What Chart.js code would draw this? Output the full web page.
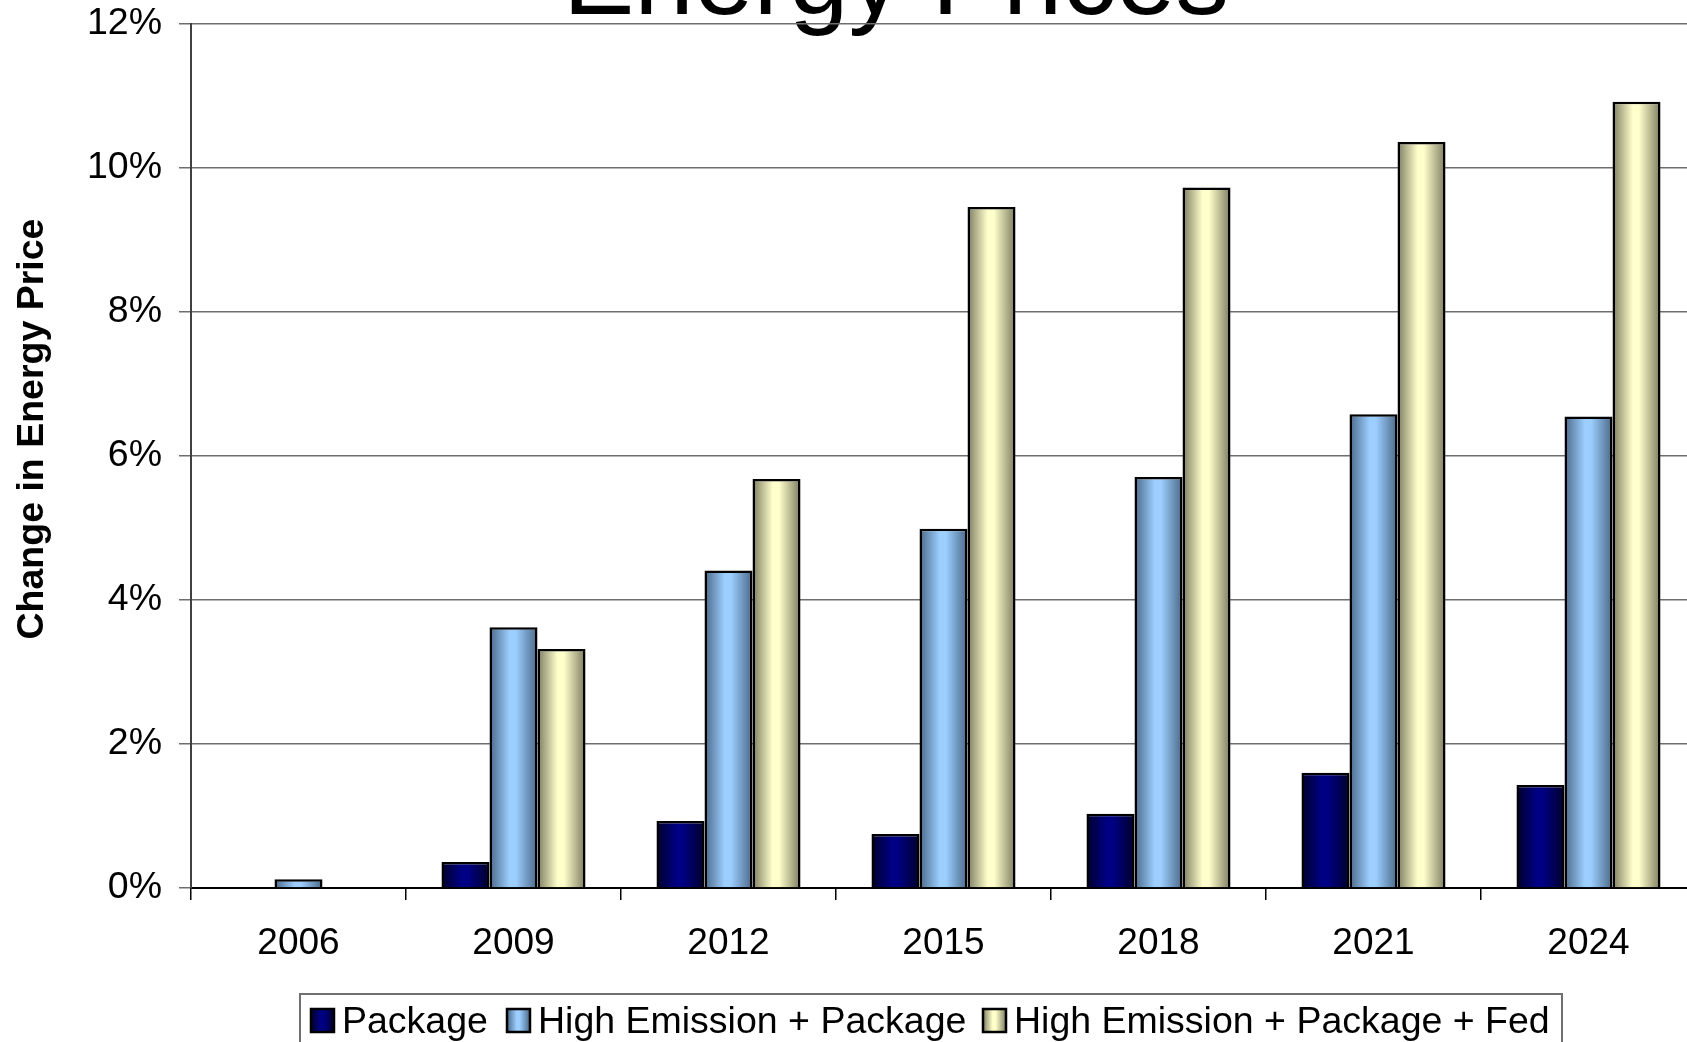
<!DOCTYPE html>
<html>
<head>
<meta charset="utf-8">
<title>Energy Prices</title>
<script src="https://cdn.jsdelivr.net/npm/chart.js@4.4.1/dist/chart.umd.min.js"></script>
<style>
  html, body { margin: 0; padding: 0; background: #fff; overflow: hidden; }
  #wrap { width: 1687px; height: 1042px; overflow: hidden; }
  canvas { display: block; }
</style>
</head>
<body>
<div id="wrap"><canvas id="chart" width="1720" height="1042"></canvas></div>
<script>
// data (percent change in energy price)
const years = ['2006', '2009', '2012', '2015', '2018', '2021', '2024'];
const seriesNames = ['Package', 'High Emission + Package', 'High Emission + Package + Fed'];
const packageVals = [0, 0.36, 0.93, 0.75, 1.03, 1.60, 1.43];
const highEmissionVals = [0.12, 3.62, 4.41, 4.99, 5.71, 6.58, 6.55];
const highEmissionFedVals = [0, 3.32, 5.68, 9.46, 9.73, 10.36, 10.92];
const yTicks = [0, 2, 4, 6, 8, 10, 12];

// shading for each series: dark edge, light centre
const shades = [
    { dark: '#00002a', light: '#000084' },
    { dark: '#4a6887', light: '#9cceff' },
    { dark: '#7c7c60', light: '#ffffcc' }
];

const FONT = '"Liberation Sans", Arial, Helvetica, sans-serif';

function barGradient(ctx, left, width, shade) {
    const g = ctx.createLinearGradient(left, 0, left + width, 0);
    g.addColorStop(0, shade.dark);
    g.addColorStop(0.42, shade.light);
    g.addColorStop(0.55, shade.light);
    g.addColorStop(1, shade.dark);
    return g;
}

// cylinder-like fill on every bar
const shadingPlugin = {
    id: 'shading',
    beforeDatasetsDraw(chart) {
        const ctx = chart.ctx;
        chart.data.datasets.forEach((ds, i) => {
            const meta = chart.getDatasetMeta(i);
            meta.data.forEach(bar => {
                const left = bar.x - bar.width / 2;
                bar.options.backgroundColor = barGradient(ctx, left, bar.width, shades[i]);
            });
        });
    }
};

// title, y title and legend box (the reference crops them at the edges)
const decorPlugin = {
    id: 'decor',
    beforeDraw(chart) {
        const ctx = chart.ctx;
        ctx.save();
        ctx.fillStyle = '#000';

        // title
        ctx.font = '107px ' + FONT;
        ctx.textAlign = 'left';
        ctx.textBaseline = 'alphabetic';
        ctx.fillText('Energy Prices', 563, 14);

        // y axis title
        ctx.save();
        ctx.translate(33, 429);
        ctx.rotate(-Math.PI / 2);
        ctx.font = 'bold 37.5px ' + FONT;
        ctx.textAlign = 'center';
        ctx.textBaseline = 'middle';
        ctx.fillText('Change in Energy Price', 0, 0);
        ctx.restore();

        // legend
        ctx.strokeStyle = '#707070';
        ctx.lineWidth = 2;
        ctx.strokeRect(300, 994, 1262, 80);
        const markerX = [311, 507, 983];
        ctx.font = '37.5px ' + FONT;
        ctx.textAlign = 'left';
        ctx.textBaseline = 'alphabetic';
        seriesNames.forEach((name, i) => {
            const x = markerX[i];
            ctx.fillStyle = barGradient(ctx, x, 23, shades[i]);
            ctx.fillRect(x, 1009, 23, 23);
            ctx.strokeStyle = '#000';
            ctx.lineWidth = 2.5;
            ctx.strokeRect(x, 1009, 23, 23);
            ctx.fillStyle = '#000';
            ctx.fillText(name, x + 31, 1033);
        });
        ctx.restore();
    }
};

const datasets = [packageVals, highEmissionVals, highEmissionFedVals].map((vals, i) => ({
    label: seriesNames[i],
    data: vals,
    backgroundColor: () => shades[i].light,
    borderColor: '#000',
    borderWidth: 2.5,
    borderSkipped: 'bottom',
    barPercentage: 1,
    categoryPercentage: 0.67
}));

new Chart(document.getElementById('chart'), {
    type: 'bar',
    data: { labels: years, datasets },
    plugins: [decorPlugin, shadingPlugin],
    options: {
        responsive: false,
        animation: false,
        layout: { padding: { left: 0, top: 24, right: 24, bottom: 0 } },
        plugins: {
            legend: { display: false },
            title: { display: false },
            tooltip: { enabled: false }
        },
        scales: {
            x: {
                grid: {
                    offset: true,
                    drawOnChartArea: false,
                    drawTicks: true,
                    tickLength: 12,
                    color: '#000',
                    lineWidth: 1.5
                },
                border: { display: true, color: '#000', width: 2 },
                ticks: {
                    color: '#000',
                    font: { family: FONT, size: 37 },
                    padding: 22,
                    maxRotation: 0
                },
                afterFit(scale) {
                    scale.height = 154;
                    scale.paddingLeft = 0;
                    scale.paddingRight = 0;
                }
            },
            y: {
                min: 0,
                max: 12,
                afterBuildTicks(scale) { scale.ticks = yTicks.map(v => ({ value: v })); },
                grid: {
                    color: '#6e6e6e',
                    lineWidth: 1.5,
                    drawTicks: true,
                    tickLength: 12
                },
                border: { display: true, color: '#404040', width: 2 },
                ticks: {
                    color: '#000',
                    font: { family: FONT, size: 37.5 },
                    padding: 17,
                    callback: v => v + '%'
                },
                afterFit(scale) {
                    scale.width = 191;
                    scale.paddingTop = 0;
                    scale.paddingBottom = 0;
                }
            }
        }
    }
});
</script>
</body>
</html>
